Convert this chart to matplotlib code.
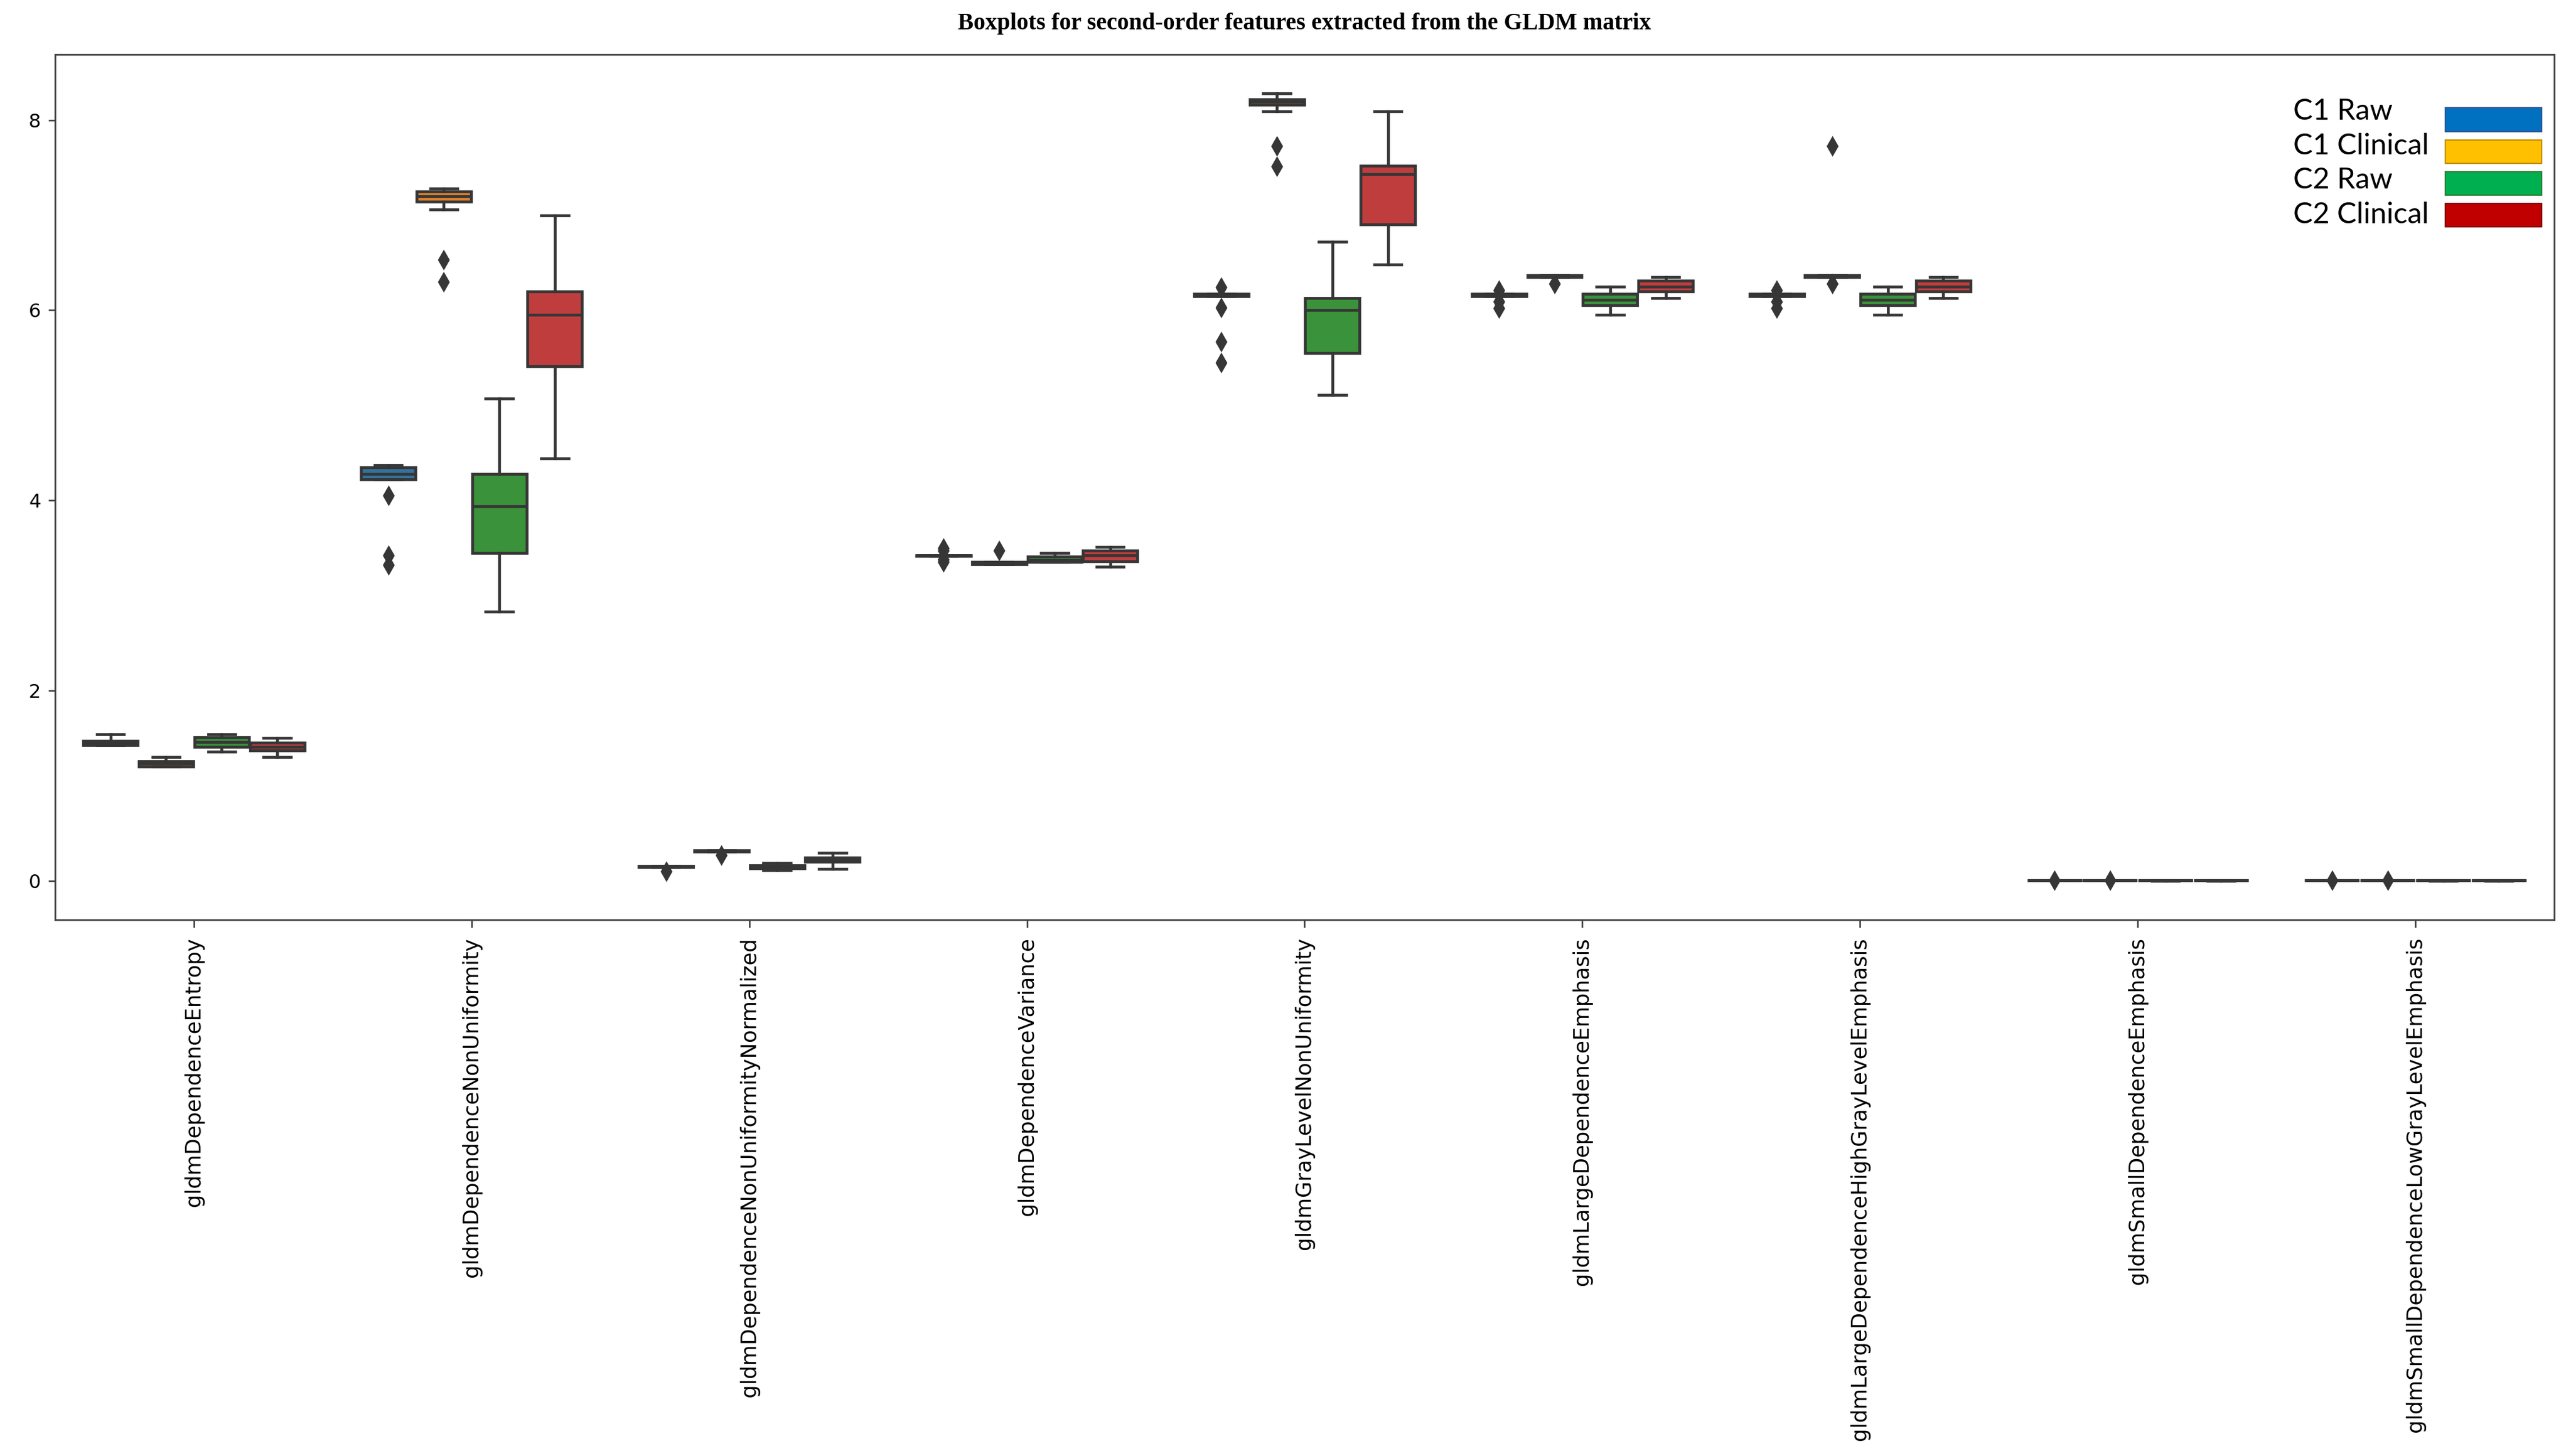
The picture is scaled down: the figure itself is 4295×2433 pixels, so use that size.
import numpy as np
import matplotlib.pyplot as plt
from matplotlib.patches import Rectangle

features = ['gldmDependenceEntropy', 'gldmDependenceNonUniformity',
            'gldmDependenceNonUniformityNormalized', 'gldmDependenceVariance',
            'gldmGrayLevelNonUniformity', 'gldmLargeDependenceEmphasis',
            'gldmLargeDependenceHighGrayLevelEmphasis', 'gldmSmallDependenceEmphasis',
            'gldmSmallDependenceLowGrayLevelEmphasis']
groups = ['C1 Raw', 'C1 Clinical', 'C2 Raw', 'C2 Clinical']

# one row per feature, columns = C1 Raw, C1 Clinical, C2 Raw, C2 Clinical
q1 = [[1.425, 1.20, 1.41, 1.37],
      [4.22, 7.14, 3.45, 5.41],
      [0.145, 0.31, 0.13, 0.20],
      [3.415, 3.33, 3.35, 3.36],
      [6.15, 8.16, 5.55, 6.90],
      [6.15, 6.35, 6.05, 6.20],
      [6.15, 6.35, 6.05, 6.20],
      [0.002, 0.002, 0.002, 0.002],
      [0.002, 0.002, 0.002, 0.002]]
med = [[1.45, 1.23, 1.46, 1.41],
       [4.28, 7.20, 3.94, 5.95],
       [0.15, 0.315, 0.145, 0.22],
       [3.42, 3.34, 3.37, 3.42],
       [6.16, 8.19, 6.00, 7.43],
       [6.16, 6.36, 6.11, 6.25],
       [6.16, 6.36, 6.11, 6.25],
       [0.003, 0.003, 0.003, 0.003],
       [0.003, 0.003, 0.003, 0.003]]
q3 = [[1.47, 1.26, 1.51, 1.45],
      [4.35, 7.25, 4.28, 6.20],
      [0.155, 0.32, 0.165, 0.245],
      [3.425, 3.35, 3.41, 3.47],
      [6.17, 8.22, 6.13, 7.52],
      [6.17, 6.37, 6.17, 6.31],
      [6.17, 6.37, 6.17, 6.31],
      [0.004, 0.004, 0.004, 0.004],
      [0.004, 0.004, 0.004, 0.004]]
whislo = [[1.425, 1.20, 1.36, 1.30],
          [4.22, 7.06, 2.83, 4.44],
          [0.145, 0.31, 0.11, 0.125],
          [3.415, 3.33, 3.35, 3.30],
          [6.15, 8.09, 5.11, 6.48],
          [6.15, 6.35, 5.95, 6.13],
          [6.15, 6.35, 5.95, 6.13],
          [0.002, 0.002, 0.001, 0.001],
          [0.002, 0.002, 0.001, 0.001]]
whishi = [[1.54, 1.30, 1.54, 1.50],
          [4.37, 7.28, 5.07, 7.00],
          [0.155, 0.32, 0.19, 0.295],
          [3.425, 3.35, 3.45, 3.51],
          [6.17, 8.28, 6.72, 8.09],
          [6.17, 6.37, 6.25, 6.35],
          [6.17, 6.37, 6.25, 6.35],
          [0.004, 0.004, 0.005, 0.005],
          [0.004, 0.004, 0.005, 0.005]]
fliers = [[[], [], [], []],
          [[4.05, 3.42, 3.32], [6.53, 6.30], [], []],
          [[0.10], [0.27], [], []],
          [[3.35, 3.38, 3.47, 3.50], [3.47], [], []],
          [[6.24, 6.03, 5.67, 5.45], [7.73, 7.51], [], []],
          [[6.21, 6.09, 6.02], [6.28], [], []],
          [[6.21, 6.09, 6.02], [7.73, 6.28], [], []],
          [[0.006], [0.006], [], []],
          [[0.006], [0.006], [], []]]

box_colors = ['#3274a1', '#e1812c', '#3a923a', '#c03d3e']
legend_colors = ['#0070c0', '#ffc000', '#00b050', '#c00000']
legend_edges = ['#2f5597', '#bf9000', '#2e7d32', '#7f0000']
line_color = '#363636'
lw = 1.7

fig = plt.figure(figsize=(21.475, 12.165), dpi=200)
ax = fig.add_subplot()
fig.subplots_adjust(left=0.0214, right=0.9935, top=0.9626, bottom=0.3683)

n = len(features)
for j, g in enumerate(groups):
    stats = []
    for i in range(n):
        stats.append(dict(med=med[i][j], q1=q1[i][j], q3=q3[i][j],
                          whislo=whislo[i][j], whishi=whishi[i][j],
                          fliers=fliers[i][j]))
    pos = np.arange(n) + (j - 1.5) * 0.2
    ax.bxp(stats, positions=pos, widths=0.196, patch_artist=True,
           manage_ticks=False,
           boxprops=dict(facecolor=box_colors[j], edgecolor=line_color, linewidth=lw),
           medianprops=dict(color=line_color, linewidth=lw),
           whiskerprops=dict(color=line_color, linewidth=lw),
           capprops=dict(color=line_color, linewidth=lw),
           flierprops=dict(marker='d', markerfacecolor=line_color,
                           markeredgecolor=line_color, markersize=7,
                           markeredgewidth=1.2))

ax.set_xlim(-0.5, n - 0.5)
ax.set_ylim(-0.41, 8.69)
ax.set_xticks(np.arange(n))
ax.set_xticklabels(features, rotation=90, fontsize=12.7)
ax.set_yticks([0, 2, 4, 6, 8])
ax.tick_params(axis='y', labelsize=11.5, pad=4.5, length=4, width=0.9, color=line_color)
ax.tick_params(axis='x', pad=6, length=4.5, width=0.9, color=line_color)
for s in ax.spines.values():
    s.set_linewidth(1.0)
    s.set_color('#404040')

ax.set_title('Boxplots for second-order features extracted from the GLDM matrix',
             family='Liberation Serif', fontweight='bold', fontsize=14.2, pad=15)

# legend drawn by hand: labels on the left, colour swatches on the right
for j, g in enumerate(groups):
    yp = 0.9246 - j * 0.0367
    ax.add_patch(Rectangle((0.9564, yp - 0.0135), 0.0386, 0.027, transform=ax.transAxes,
                           facecolor=legend_colors[j], edgecolor=legend_edges[j],
                           linewidth=0.8, zorder=5))
    ax.text(0.8955, 0.934 - j * 0.0397, g, transform=ax.transAxes, va='center', ha='left',
            family='Lato', fontsize=17.5, color='black')

fig.savefig('out.png', dpi=200)
